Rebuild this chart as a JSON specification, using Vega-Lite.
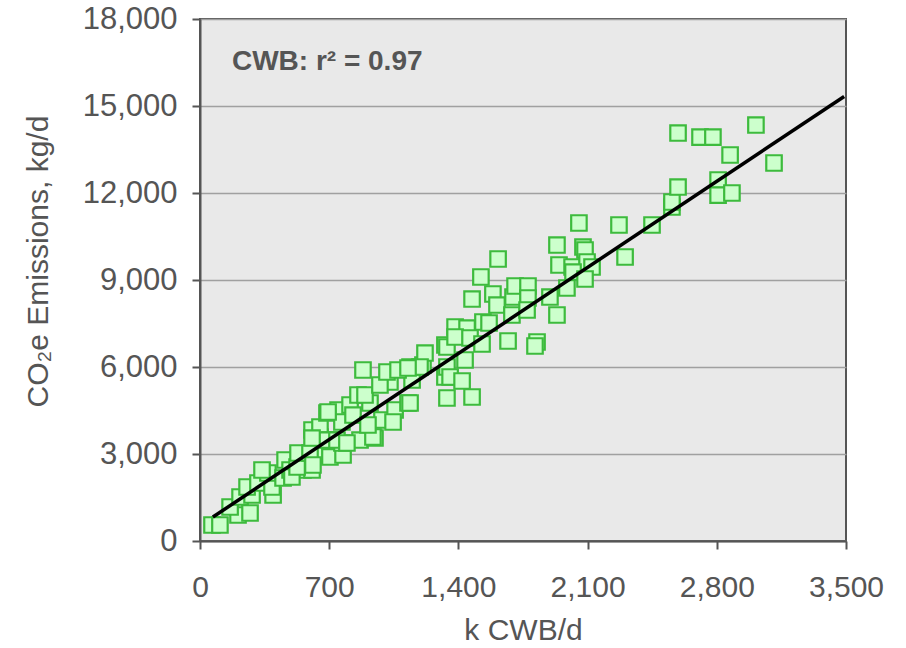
{
  "$schema": "https://vega.github.io/schema/vega-lite/v6.json",
  "width": 646,
  "height": 522,
  "autosize": {"type": "none"},
  "padding": {"left": 200, "top": 19, "right": 60, "bottom": 107},
  "background": "white",
  "config": {
    "view": {"fill": "#e9e9e9", "stroke": "#555555", "strokeWidth": 2},
    "axis": {
      "domainColor": "#555555", "domainWidth": 2,
      "tickColor": "#555555", "tickWidth": 2, "tickSize": 8,
      "labelColor": "#555555", "titleColor": "#555555",
      "gridColor": "#a0a0a0", "gridWidth": 1.5,
      "titleFontWeight": "normal", "labelOverlap": false, "labelFlush": false
    }
  },
  "datasets": {
    "pts": [
      {"cwb": 65, "co2": 552}, {"cwb": 108, "co2": 552}, {"cwb": 206, "co2": 896}, {"cwb": 271, "co2": 965},
      {"cwb": 163, "co2": 1172}, {"cwb": 217, "co2": 1517}, {"cwb": 282, "co2": 1586}, {"cwb": 255, "co2": 1862},
      {"cwb": 314, "co2": 2000}, {"cwb": 396, "co2": 1586}, {"cwb": 390, "co2": 1862}, {"cwb": 368, "co2": 2345},
      {"cwb": 450, "co2": 2172}, {"cwb": 461, "co2": 2793}, {"cwb": 488, "co2": 2448}, {"cwb": 542, "co2": 2896},
      {"cwb": 558, "co2": 2448}, {"cwb": 607, "co2": 2448}, {"cwb": 612, "co2": 3034}, {"cwb": 650, "co2": 3586},
      {"cwb": 607, "co2": 3827}, {"cwb": 650, "co2": 3931}, {"cwb": 666, "co2": 3241}, {"cwb": 336, "co2": 2448},
      {"cwb": 498, "co2": 2207}, {"cwb": 623, "co2": 2965}, {"cwb": 704, "co2": 2896}, {"cwb": 775, "co2": 2965},
      {"cwb": 704, "co2": 3482}, {"cwb": 769, "co2": 3379}, {"cwb": 688, "co2": 4413}, {"cwb": 748, "co2": 4517},
      {"cwb": 813, "co2": 4689}, {"cwb": 856, "co2": 5034}, {"cwb": 921, "co2": 4758}, {"cwb": 986, "co2": 4172},
      {"cwb": 1057, "co2": 4517}, {"cwb": 867, "co2": 3482}, {"cwb": 948, "co2": 3551}, {"cwb": 1029, "co2": 5482},
      {"cwb": 1127, "co2": 4758}, {"cwb": 1046, "co2": 4103}, {"cwb": 526, "co2": 2552}, {"cwb": 531, "co2": 3034},
      {"cwb": 596, "co2": 3034}, {"cwb": 612, "co2": 2620}, {"cwb": 677, "co2": 3482}, {"cwb": 742, "co2": 3482},
      {"cwb": 796, "co2": 3379}, {"cwb": 937, "co2": 3586}, {"cwb": 607, "co2": 3551}, {"cwb": 769, "co2": 4103},
      {"cwb": 829, "co2": 4344}, {"cwb": 910, "co2": 4000}, {"cwb": 694, "co2": 4448}, {"cwb": 894, "co2": 5034},
      {"cwb": 975, "co2": 5379}, {"cwb": 1149, "co2": 5551}, {"cwb": 883, "co2": 5896}, {"cwb": 1013, "co2": 5827},
      {"cwb": 1073, "co2": 5896}, {"cwb": 1138, "co2": 6000}, {"cwb": 1208, "co2": 6068}, {"cwb": 1219, "co2": 6482},
      {"cwb": 1327, "co2": 6758}, {"cwb": 1327, "co2": 5655}, {"cwb": 1338, "co2": 4931}, {"cwb": 1138, "co2": 4758},
      {"cwb": 1338, "co2": 6689}, {"cwb": 1382, "co2": 7379}, {"cwb": 1447, "co2": 7344}, {"cwb": 1533, "co2": 7551},
      {"cwb": 1566, "co2": 7517}, {"cwb": 1382, "co2": 7034}, {"cwb": 1463, "co2": 7000}, {"cwb": 1528, "co2": 6793},
      {"cwb": 1669, "co2": 6896}, {"cwb": 1826, "co2": 6862}, {"cwb": 1815, "co2": 6724}, {"cwb": 1436, "co2": 6241},
      {"cwb": 1338, "co2": 6000}, {"cwb": 1192, "co2": 6000}, {"cwb": 1127, "co2": 5965}, {"cwb": 1355, "co2": 5655},
      {"cwb": 1420, "co2": 5517}, {"cwb": 1474, "co2": 4965}, {"cwb": 1474, "co2": 8344}, {"cwb": 1587, "co2": 8517},
      {"cwb": 1609, "co2": 8137}, {"cwb": 1696, "co2": 8413}, {"cwb": 1707, "co2": 8793}, {"cwb": 1777, "co2": 8793},
      {"cwb": 1777, "co2": 8379}, {"cwb": 1896, "co2": 8413}, {"cwb": 1988, "co2": 8724}, {"cwb": 1690, "co2": 7793},
      {"cwb": 1772, "co2": 7965}, {"cwb": 1934, "co2": 7793}, {"cwb": 1522, "co2": 9103}, {"cwb": 1615, "co2": 9724},
      {"cwb": 1934, "co2": 10206}, {"cwb": 2075, "co2": 10137}, {"cwb": 2086, "co2": 10034}, {"cwb": 1945, "co2": 9517},
      {"cwb": 2016, "co2": 9448}, {"cwb": 2097, "co2": 9620}, {"cwb": 2124, "co2": 9448}, {"cwb": 2021, "co2": 9275},
      {"cwb": 2086, "co2": 9034}, {"cwb": 2053, "co2": 10965}, {"cwb": 2270, "co2": 10896}, {"cwb": 2303, "co2": 9793},
      {"cwb": 2449, "co2": 10896}, {"cwb": 2557, "co2": 11517}, {"cwb": 2557, "co2": 11689}, {"cwb": 2590, "co2": 12206},
      {"cwb": 2807, "co2": 12448}, {"cwb": 2807, "co2": 11930}, {"cwb": 2882, "co2": 12000}, {"cwb": 2872, "co2": 13310},
      {"cwb": 3110, "co2": 13034}, {"cwb": 2590, "co2": 14068}, {"cwb": 2709, "co2": 13930}, {"cwb": 2779, "co2": 13930},
      {"cwb": 3012, "co2": 14344}
    ],
    "fit": [{"cwb": 70, "co2": 827}, {"cwb": 3490, "co2": 15330}],
    "note": [{"cwb": 173, "co2": 16516, "label": "CWB: r² = 0.97"}]
  },
  "layer": [
    {
      "data": {"name": "pts"},
      "mark": {"type": "square", "size": 240, "filled": true, "fill": "#ccffcc", "stroke": "#3dbb3d", "strokeWidth": 2.2, "opacity": 1},
      "encoding": {
        "x": {
          "field": "cwb", "type": "quantitative",
          "scale": {"domain": [0, 3500], "nice": false},
          "axis": {
            "title": "k CWB/d", "values": [0, 700, 1400, 2100, 2800, 3500], "format": ",d",
            "grid": false, "labelFont": "Liberation Sans, sans-serif",
            "labelFontSize": 30, "labelPadding": 23, "titleFont": "Liberation Sans, sans-serif",
            "titleFontSize": 30, "titlePadding": 13
          }
        },
        "y": {
          "field": "co2", "type": "quantitative",
          "scale": {"domain": [0, 18000], "nice": false},
          "axis": {
            "title": "CO₂e Emissions, kg/d", "values": [0, 3000, 6000, 9000, 12000, 15000, 18000], "format": ",d",
            "grid": true, "labelFont": "Liberation Sans, sans-serif", "labelFontSize": 31, "labelPadding": 15,
            "titleFont": "Liberation Sans, sans-serif", "titleFontSize": 30,
            "titleX": -162, "titleY": 242, "titleBaseline": "middle", "titleAngle": -90
          }
        }
      }
    },
    {
      "data": {"name": "fit"},
      "mark": {"type": "line", "color": "black", "strokeWidth": 3.5},
      "encoding": {
        "x": {"field": "cwb", "type": "quantitative"},
        "y": {"field": "co2", "type": "quantitative"}
      }
    },
    {
      "data": {"name": "note"},
      "mark": {"type": "text", "align": "left", "baseline": "middle", "font": "Liberation Sans, sans-serif", "fontWeight": "bold", "fontSize": 28, "color": "#555555"},
      "encoding": {
        "x": {"field": "cwb", "type": "quantitative"},
        "y": {"field": "co2", "type": "quantitative"},
        "text": {"field": "label"}
      }
    }
  ]
}
